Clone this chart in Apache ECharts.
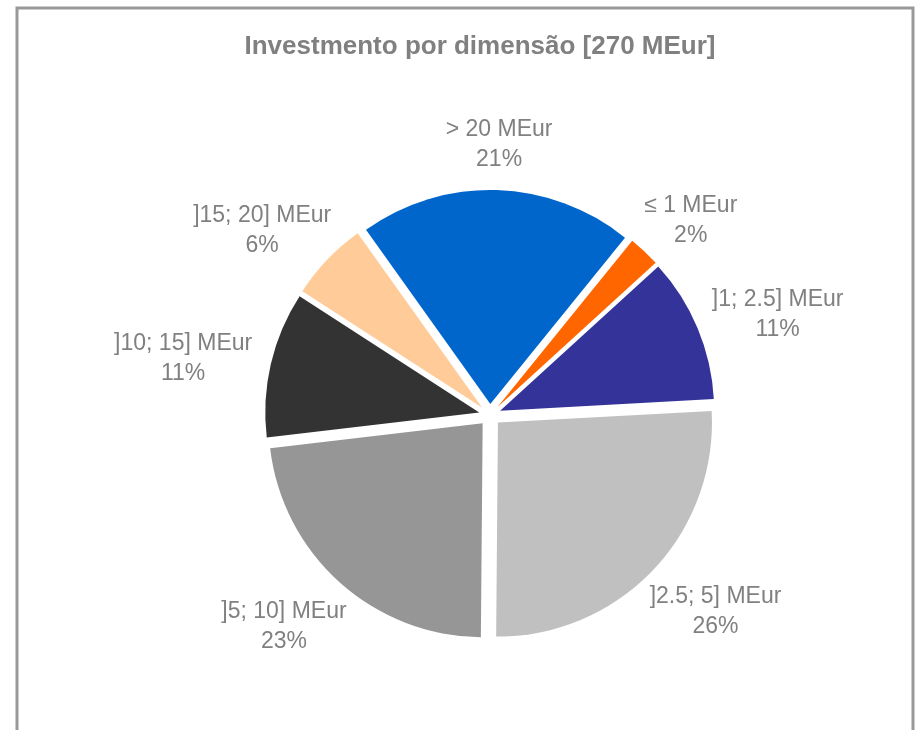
<!DOCTYPE html>
<html>
<head>
<meta charset="utf-8">
<script src="https://cdn.jsdelivr.net/npm/echarts@6/dist/echarts.min.js"></script>
<style>
  html, body { margin: 0; padding: 0; background: #fff; }
  #main { width: 919px; height: 730px; }
</style>
</head>
<body>
<div id="main"></div>
<script>
// dados do gráfico (percentagem do investimento total por dimensão)
var categorias = ['≤ 1 MEur', ']1; 2.5] MEur', ']2.5; 5] MEur', ']5; 10] MEur', ']10; 15] MEur', ']15; 20] MEur', '> 20 MEur'];
var valores = [2.4, 10.9, 26.0, 23.0, 11.0, 6.0, 20.7];
var cores = ['#FF6600', '#333399', '#C0C0C0', '#969696', '#333333', '#FFCC99', '#0066CC'];

var centro = [490, 415];
var centroRotulo = [490, 421];
var raio = 214;
var inicio = 39; // graus, sentido horário a partir do topo
var fonteRotulo = 23;
var alturaLinha = 30;
var distRotulo = 293; // raio do anel (invisível) que leva os rótulos

var total = 0;
for (var i = 0; i < valores.length; i++) total += valores[i];

// medir a largura do texto dos rótulos
var ctx = document.createElement('canvas').getContext('2d');
ctx.font = fonteRotulo + 'px "Liberation Sans"';

var dados = [];
var dadosRotulo = [];
var acum = 0;
for (var i = 0; i < valores.length; i++) {
    dados.push({
        name: categorias[i],
        value: valores[i],
        selected: true,
        itemStyle: { color: cores[i] }
    });
    // afastar cada rótulo conforme o tamanho do texto (como no Excel)
    var meio = (inicio + (acum + valores[i] / 2) / total * 360) * Math.PI / 180;
    acum += valores[i];
    var ux = Math.sin(meio), uy = -Math.cos(meio);
    var w = ctx.measureText(categorias[i]).width / 2;
    dadosRotulo.push({
        name: categorias[i],
        value: valores[i],
        label: { offset: [ux * (w - 50), uy * (alturaLinha - 50)] }
    });
}

var myChart = echarts.init(document.getElementById('main'));

myChart.setOption({
    animation: false,
    backgroundColor: '#fff',
    title: {
        text: 'Investmento por dimensão [270 MEur]',
        left: 475,
        top: 29,
        textAlign: 'center',
        textStyle: { fontFamily: 'Liberation Sans', fontSize: 26, fontWeight: 'bold', color: '#808080' }
    },
    graphic: [{
        type: 'rect',
        shape: { x: 17, y: 8, width: 896, height: 740 },
        style: { fill: 'none', stroke: '#999', lineWidth: 3 },
        silent: true
    }],
    series: [{
        type: 'pie',
        center: centro,
        radius: raio,
        startAngle: 90 - inicio,
        clockwise: true,
        selectedMode: 'multiple',
        selectedOffset: 11,
        label: { show: false },
        labelLine: { show: false },
        emphasis: { disabled: true },
        select: { itemStyle: {} },
        data: dados
    }, {
        // anel transparente só para os rótulos
        type: 'pie',
        center: centroRotulo,
        radius: [distRotulo - 1, distRotulo + 1],
        startAngle: 90 - inicio,
        clockwise: true,
        silent: true,
        percentPrecision: 0,
        itemStyle: { color: 'rgba(0,0,0,0)' },
        label: {
            show: true,
            position: 'inside',
            formatter: '{b}\n{d}%',
            fontFamily: 'Liberation Sans',
            fontSize: fonteRotulo,
            lineHeight: alturaLinha,
            color: '#808080',
            textBorderWidth: 0
        },
        labelLine: { show: false },
        emphasis: { disabled: true },
        data: dadosRotulo
    }]
});
</script>
</body>
</html>
